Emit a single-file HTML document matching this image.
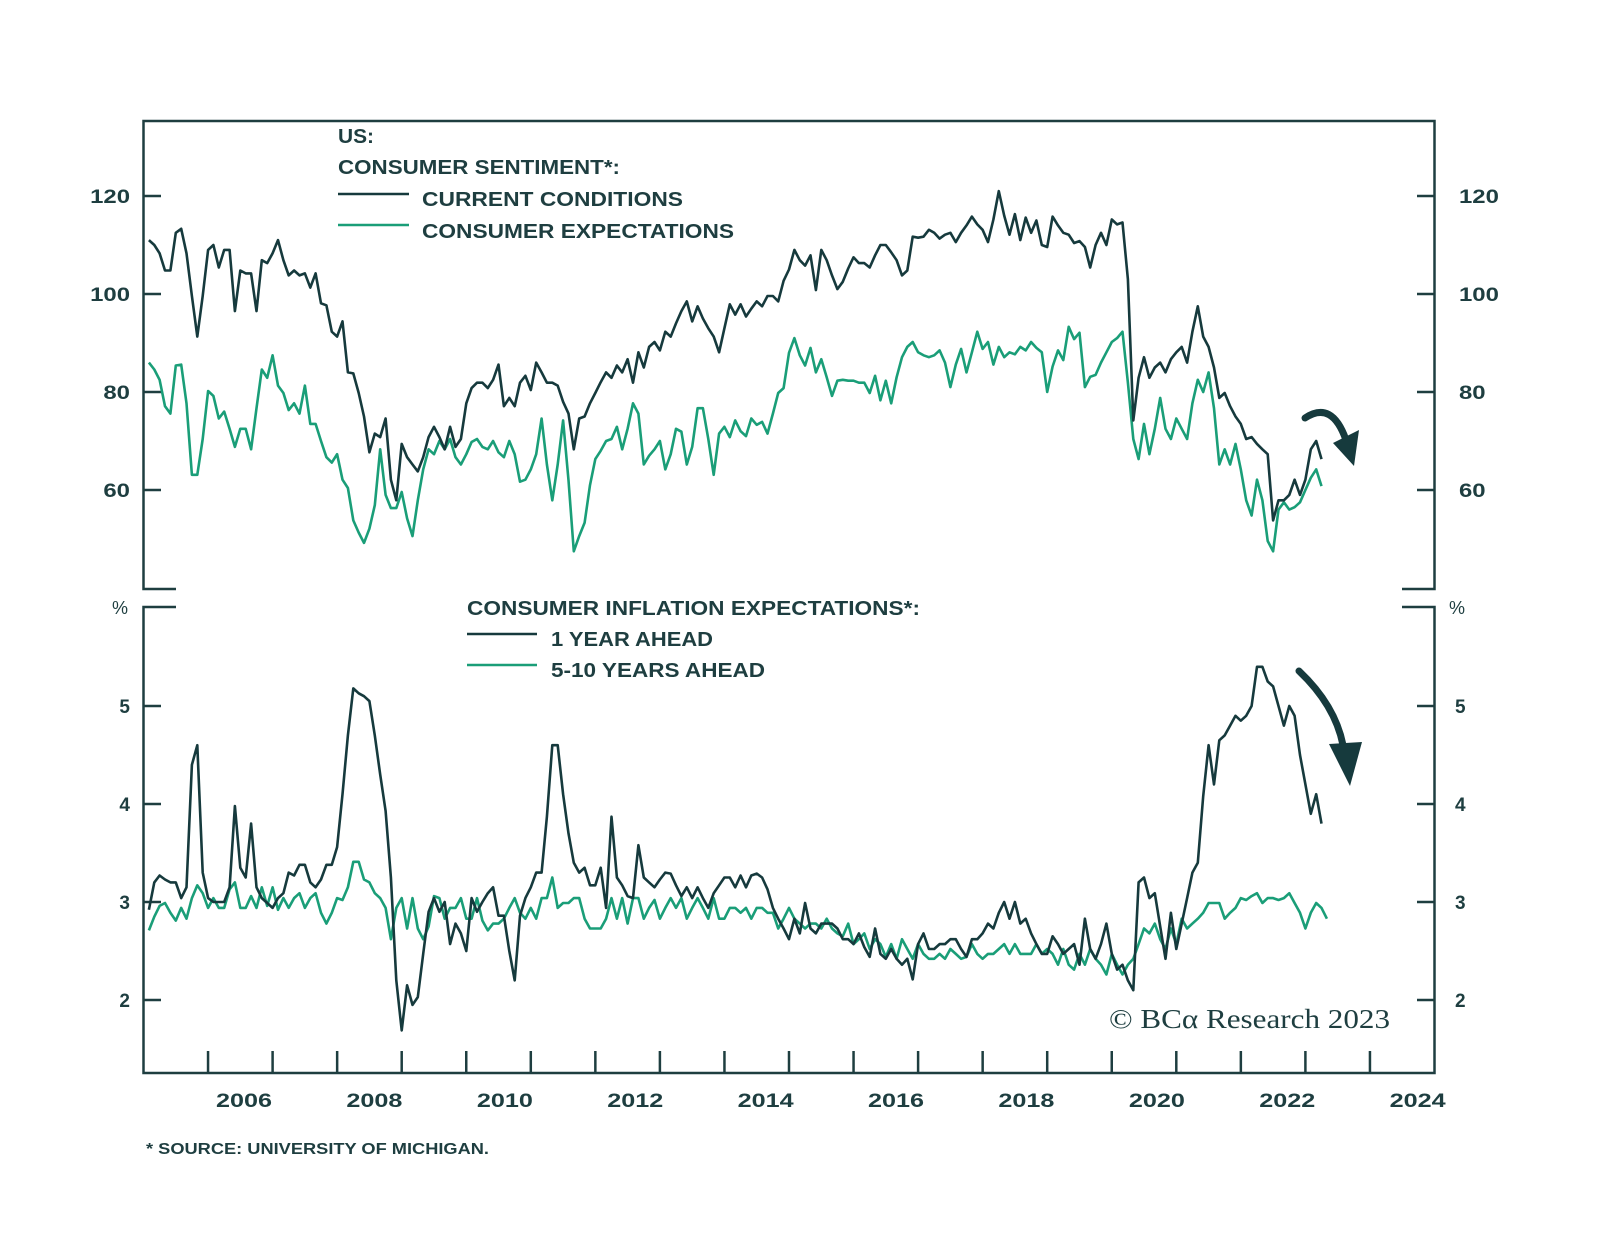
<!DOCTYPE html>
<html><head><meta charset="utf-8"><style>
html,body{margin:0;padding:0;background:#fff}
svg{display:block}
text{font-family:"Liberation Sans",sans-serif;fill:#1e3e40}
</style></head><body>
<svg id="chart" width="1600" height="1239" viewBox="0 0 1600 1239">
<rect width="1600" height="1239" fill="#fff"/>
<g id="frame" stroke="#1e3e40" stroke-width="2.5" fill="none">
<polyline points="176,589 143.5,589 143.5,121 1434.5,121 1434.5,589 1402,589"/>
<polyline points="176,607 143.5,607 143.5,1073 1434.5,1073 1434.5,607 1402,607"/>
</g>
<g id="axes"></g>
<g id="series"></g>
<g font-weight="bold">
<text x="338" y="143" font-size="20" textLength="36" lengthAdjust="spacingAndGlyphs">US:</text>
<text x="338" y="174" font-size="20" textLength="282" lengthAdjust="spacingAndGlyphs">CONSUMER SENTIMENT*:</text>
<line x1="338" y1="194" x2="409" y2="194" stroke="#163a3d" stroke-width="2.5"/>
<text x="422" y="206" font-size="20" textLength="261" lengthAdjust="spacingAndGlyphs">CURRENT CONDITIONS</text>
<line x1="338" y1="225" x2="409" y2="225" stroke="#1a9e78" stroke-width="2.5"/>
<text x="422" y="238" font-size="20" textLength="312" lengthAdjust="spacingAndGlyphs">CONSUMER EXPECTATIONS</text>
</g>
<g font-weight="bold">
<text x="467" y="615" font-size="20" textLength="453" lengthAdjust="spacingAndGlyphs">CONSUMER INFLATION EXPECTATIONS*:</text>
<line x1="467" y1="634" x2="537" y2="634" stroke="#163a3d" stroke-width="2.5"/>
<text x="551" y="646" font-size="20" textLength="162" lengthAdjust="spacingAndGlyphs">1 YEAR AHEAD</text>
<line x1="467" y1="665" x2="537" y2="665" stroke="#1a9e78" stroke-width="2.5"/>
<text x="551" y="677" font-size="20" textLength="214" lengthAdjust="spacingAndGlyphs">5-10 YEARS AHEAD</text>
</g>
<text x="1109" y="1028" font-family="Liberation Serif, serif" font-size="27" textLength="281" lengthAdjust="spacingAndGlyphs" style="font-family:'Liberation Serif',serif">© BCα Research 2023</text>
<text x="146" y="1154" font-size="16" font-weight="bold" textLength="343" lengthAdjust="spacingAndGlyphs">* SOURCE: UNIVERSITY OF MICHIGAN.</text>
<g fill="#163a3d">
<path d="M1305,418 Q1332,400 1346,440" stroke="#163a3d" stroke-width="7" fill="none" stroke-linecap="round"/>
<polygon points="1354,466 1333,443 1359,430"/>
</g>
<g fill="#163a3d">
<path d="M1299,671 Q1335,705 1343,745" stroke="#163a3d" stroke-width="7" fill="none" stroke-linecap="round"/>
<polygon points="1350,786 1329,744 1362,742"/>
</g>
</svg>
<script>
const startYear = 2005;
const topTicks = [120, 100, 80, 60];
const bottomTicks = [5, 4, 3, 2];
const yearTicks = [2006,2007,2008,2009,2010,2011,2012,2013,2014,2015,2016,2017,2018,2019,2020,2021,2022,2023,2024];
const yearLabels = [2006,2008,2010,2012,2014,2016,2018,2020,2022,2024];
const currentConditions = [111.0,110.0,108.3,104.8,104.8,112.5,113.3,108.3,99.6,91.3,
99.6,109.0,110.0,105.4,109.0,109.0,96.5,104.8,104.2,104.2,
96.5,106.9,106.3,108.3,111.0,106.9,103.8,104.8,103.8,104.2,
101.3,104.2,98.1,97.7,92.3,91.3,94.4,84.0,83.8,79.8,
75.0,67.7,71.5,70.8,74.6,62.1,57.9,69.4,66.7,65.2,
63.8,66.7,70.8,72.9,70.8,68.3,72.9,68.8,70.4,77.7,
80.8,81.9,81.9,80.8,82.5,85.6,77.1,78.8,77.1,81.9,
83.3,80.4,86.0,84.0,81.9,81.9,81.3,78.0,75.6,68.3,
74.6,75.0,77.7,79.8,82.0,84.0,82.9,85.4,84.0,86.7,
81.9,88.1,85.0,89.2,90.2,88.5,92.3,91.3,94.0,96.5,
98.5,94.4,97.5,95.0,93.0,91.3,88.1,93.0,97.9,95.8,
97.9,95.4,97.0,98.5,97.5,99.6,99.6,98.5,102.7,105.0,
109.0,106.9,105.8,107.9,100.8,109.0,106.9,103.8,101.0,102.5,
105.2,107.5,106.3,106.3,105.4,107.9,110.0,110.0,108.5,106.9,
103.8,104.8,111.7,111.5,111.7,113.1,112.5,111.3,112.1,112.5,
110.6,112.5,114.0,115.8,114.2,113.1,110.6,115.2,121.0,116.0,
112.1,116.3,111.0,115.6,112.5,115.0,110.0,109.6,115.8,114.0,
112.5,112.1,110.4,110.8,109.6,105.4,110.0,112.5,110.0,115.2,
114.2,114.6,103.0,74.2,82.9,87.1,82.9,85.0,86.0,84.0,
86.7,88.1,89.2,86.0,92.3,97.5,91.3,89.2,85.0,78.8,
79.8,77.1,75.0,73.5,70.4,70.8,69.4,68.3,67.3,53.8,
57.9,57.9,59.0,62.1,59.0,62.1,68.3,70.0,66.3];
const consumerExpectations = [86.0,84.6,82.5,77.1,75.6,85.4,85.6,77.7,63.1,63.1,
70.4,80.2,79.2,74.6,76.0,72.5,68.8,72.5,72.5,68.3,
76.7,84.6,82.9,87.5,81.3,79.8,76.3,77.7,75.6,81.3,
73.5,73.5,70.0,66.7,65.6,67.3,62.1,60.4,53.8,51.3,
49.2,52.1,56.9,68.3,59.0,56.3,56.3,59.6,54.2,50.6,
57.9,64.2,68.3,67.3,70.0,68.3,70.4,66.7,65.2,67.3,
69.8,70.4,68.8,68.3,70.0,67.7,66.7,70.0,67.3,61.7,
62.1,64.2,67.3,74.6,65.2,57.9,65.2,74.2,62.0,47.5,
50.6,53.3,61.0,66.3,68.0,70.0,70.4,72.9,68.3,72.5,
77.7,75.6,65.2,67.0,68.3,70.0,64.2,67.3,72.5,71.9,
65.2,68.8,76.7,76.7,70.4,63.1,71.5,72.9,70.8,74.2,
72.0,71.0,74.6,73.3,73.9,71.5,75.6,79.8,80.8,88.0,
91.0,87.5,85.4,89.0,84.0,86.7,83.0,79.2,82.3,82.5,
82.3,82.3,81.9,81.9,79.8,83.3,78.3,82.3,77.7,83.0,
87.1,89.2,90.2,88.1,87.5,87.1,87.5,88.5,86.0,81.0,
85.6,88.8,84.0,88.1,92.3,88.8,90.2,85.6,89.2,87.1,
88.1,87.7,89.2,88.5,90.2,89.0,88.1,80.0,85.2,88.5,
86.5,93.3,90.8,92.1,81.0,83.1,83.5,86.0,88.1,90.2,
91.0,92.3,81.9,70.4,66.3,73.5,67.3,72.5,78.8,72.5,
70.4,74.6,72.5,70.4,77.7,82.5,80.0,84.0,76.7,65.2,
68.3,65.2,69.4,64.2,57.9,54.8,62.1,57.9,49.6,47.5,
56.0,57.5,56.0,56.5,57.5,60.0,62.5,64.2,60.8];
const oneYearAhead = [2.92,3.20,3.27,3.23,3.20,3.20,3.04,3.15,4.40,4.60,
3.30,3.04,3.00,3.00,3.00,3.15,3.98,3.35,3.25,3.80,
3.15,3.04,2.99,2.94,3.04,3.09,3.30,3.27,3.38,3.38,
3.20,3.15,3.23,3.38,3.38,3.56,4.10,4.70,5.18,5.13,
5.10,5.05,4.70,4.30,3.93,3.25,2.20,1.69,2.15,1.95,
2.03,2.47,2.90,3.04,2.90,3.00,2.57,2.78,2.68,2.50,
3.04,2.90,3.00,3.09,3.15,2.86,2.86,2.50,2.20,2.86,
3.04,3.15,3.30,3.30,3.87,4.60,4.60,4.10,3.70,3.40,
3.30,3.35,3.17,3.17,3.35,2.94,3.87,3.25,3.17,3.06,
3.04,3.58,3.25,3.20,3.15,3.23,3.30,3.29,3.17,3.06,
3.15,3.04,3.15,3.04,2.94,3.09,3.17,3.25,3.25,3.15,
3.27,3.15,3.27,3.29,3.25,3.13,2.94,2.83,2.73,2.62,
2.83,2.68,2.99,2.73,2.68,2.78,2.78,2.78,2.73,2.62,
2.62,2.57,2.68,2.54,2.44,2.73,2.47,2.42,2.52,2.42,
2.36,2.42,2.21,2.57,2.68,2.52,2.52,2.57,2.57,2.62,
2.62,2.52,2.44,2.62,2.62,2.68,2.78,2.73,2.89,3.00,
2.83,3.00,2.78,2.83,2.68,2.57,2.47,2.47,2.65,2.57,
2.47,2.52,2.57,2.36,2.83,2.52,2.42,2.57,2.78,2.47,
2.31,2.36,2.20,2.10,3.20,3.25,3.04,3.09,2.75,2.42,
2.89,2.52,2.78,3.04,3.30,3.40,4.08,4.60,4.20,4.65,
4.70,4.80,4.90,4.85,4.90,5.00,5.40,5.40,5.25,5.20,
5.00,4.80,5.00,4.90,4.50,4.20,3.90,4.10,3.80];
const fiveTenYearsAhead = [2.71,2.85,2.96,2.99,2.89,2.81,2.94,2.83,3.04,3.17,
3.09,2.94,3.04,2.94,2.94,3.13,3.20,2.94,2.94,
3.06,2.94,3.15,2.96,3.15,2.92,3.04,2.94,3.04,3.09,
2.94,3.04,3.09,2.89,2.78,2.89,3.04,3.02,3.15,3.41,
3.41,3.23,3.20,3.09,3.04,2.94,2.62,2.94,3.04,2.73,
3.04,2.73,2.62,2.75,3.06,3.04,2.83,2.94,2.94,3.04,
2.83,2.83,3.04,2.81,2.71,2.78,2.78,2.83,2.94,3.04,
2.89,2.83,2.94,2.83,3.04,3.04,3.25,2.94,2.99,2.99,
3.04,3.04,2.83,2.73,2.73,2.73,2.83,3.04,2.83,3.04,
2.78,3.04,3.04,2.83,2.94,3.02,2.83,2.94,3.04,2.94,
3.04,2.83,2.94,3.04,2.94,2.83,3.04,2.83,2.83,2.94,
2.94,2.89,2.94,2.83,2.94,2.94,2.89,2.89,2.73,2.83,
2.94,2.83,2.78,2.73,2.78,2.78,2.73,2.83,2.73,2.68,
2.65,2.78,2.57,2.62,2.68,2.52,2.62,2.57,2.44,2.57,
2.42,2.62,2.52,2.42,2.57,2.47,2.42,2.42,2.47,2.42,
2.52,2.47,2.42,2.44,2.57,2.47,2.42,2.47,2.47,2.52,
2.57,2.47,2.57,2.47,2.47,2.47,2.57,2.47,2.52,2.47,
2.36,2.52,2.36,2.31,2.47,2.36,2.52,2.42,2.36,2.26,
2.47,2.36,2.26,2.36,2.42,2.57,2.73,2.68,2.78,2.62,
2.52,2.73,2.57,2.83,2.73,2.78,2.83,2.89,2.99,2.99,
2.99,2.83,2.89,2.94,3.04,3.02,3.06,3.09,2.99,3.04,
3.04,3.02,3.04,3.09,2.99,2.89,2.73,2.89,2.99,2.94,2.83];

const NS = 'http://www.w3.org/2000/svg';
const X0 = 143.5, PX_PER_YEAR = 64.55;
function xYear(y){ return X0 + (y - startYear) * PX_PER_YEAR; }
function xMonth(i){ return xYear(startYear + (i + 1) / 12); }
function yTop(v){ return 196 + (120 - v) * 4.9; }
function yBot(v){ return 902 - (v - 3) * 98; }
function mk(tag, attrs, parent){
  const e = document.createElementNS(NS, tag);
  for (const k in attrs) e.setAttribute(k, attrs[k]);
  parent.appendChild(e); return e;
}
const axes = document.getElementById('axes');
const DARK = '#1e3e40';
topTicks.forEach(v => {
  const y = yTop(v);
  const l = mk('line', {x1:143.5, x2:161, y1:y, y2:y, stroke:DARK, 'stroke-width':2.5}, axes);
  
  
  const r = mk('line', {x1:1417, x2:1434.5, y1:y, y2:y, stroke:DARK, 'stroke-width':2.5}, axes);
  
  
  const w = String(v).length * 13.3;
  const t1 = mk('text', {x:130, y:y+7, 'text-anchor':'end', 'font-size':19, 'font-weight':'bold', textLength:w, lengthAdjust:'spacingAndGlyphs'}, axes);
  t1.textContent = v;
  
  
  const t2 = mk('text', {x:1459, y:y+7, 'font-size':19, 'font-weight':'bold', textLength:w, lengthAdjust:'spacingAndGlyphs'}, axes);
  t2.textContent = v;
  
  
});
bottomTicks.forEach(v => {
  const y = yBot(v);
  const l = mk('line', {x1:143.5, x2:161, y1:y, y2:y, stroke:DARK, 'stroke-width':2.5}, axes);
  
  
  const r = mk('line', {x1:1417, x2:1434.5, y1:y, y2:y, stroke:DARK, 'stroke-width':2.5}, axes);
  
  
  const t1 = mk('text', {x:130, y:y+7, 'text-anchor':'end', 'font-size':19, 'font-weight':'bold'}, axes);
  t1.textContent = v;
  
  
  const t2 = mk('text', {x:1455, y:y+7, 'font-size':19, 'font-weight':'bold'}, axes);
  t2.textContent = v;
  
  
});
const pl = mk('text', {x:120, y:614, 'text-anchor':'middle', 'font-size':18}, axes);
pl.textContent = '%';


const pr = mk('text', {x:1457, y:614, 'text-anchor':'middle', 'font-size':18}, axes);
pr.textContent = '%';


yearTicks.forEach(yr => {
  const x = xYear(yr);
  const l = mk('line', {x1:x, x2:x, y1:1073, y2:1051, stroke:DARK, 'stroke-width':2.5}, axes);
  
  
});
yearLabels.forEach(yr => {
  const cx = xYear(yr) + 36 + (yr - 2006) * 0.65;
  const t = mk('text', {x:cx, y:1107, 'text-anchor':'middle', 'font-size':19, 'font-weight':'bold', textLength:56, lengthAdjust:'spacingAndGlyphs'}, axes);
  t.textContent = yr;
  
  
});
const series = document.getElementById('series');
function drawLine(vals, yFn, color, name){
  const pts = vals.map((v, i) => xMonth(i).toFixed(1) + ',' + yFn(v).toFixed(1)).join(' ');
  const p = mk('polyline', {points:pts, fill:'none', stroke:color, 'stroke-width':2.6, 'stroke-linejoin':'round'}, series);
  
  
}
drawLine(consumerExpectations, yTop, '#1a9e78', 'consumer-expectations-line');
drawLine(currentConditions, yTop, '#163a3d', 'current-conditions-line');
drawLine(fiveTenYearsAhead, yBot, '#1a9e78', 'five-ten-years-ahead-line');
drawLine(oneYearAhead, yBot, '#163a3d', 'one-year-ahead-line');
</script>
</body></html>
